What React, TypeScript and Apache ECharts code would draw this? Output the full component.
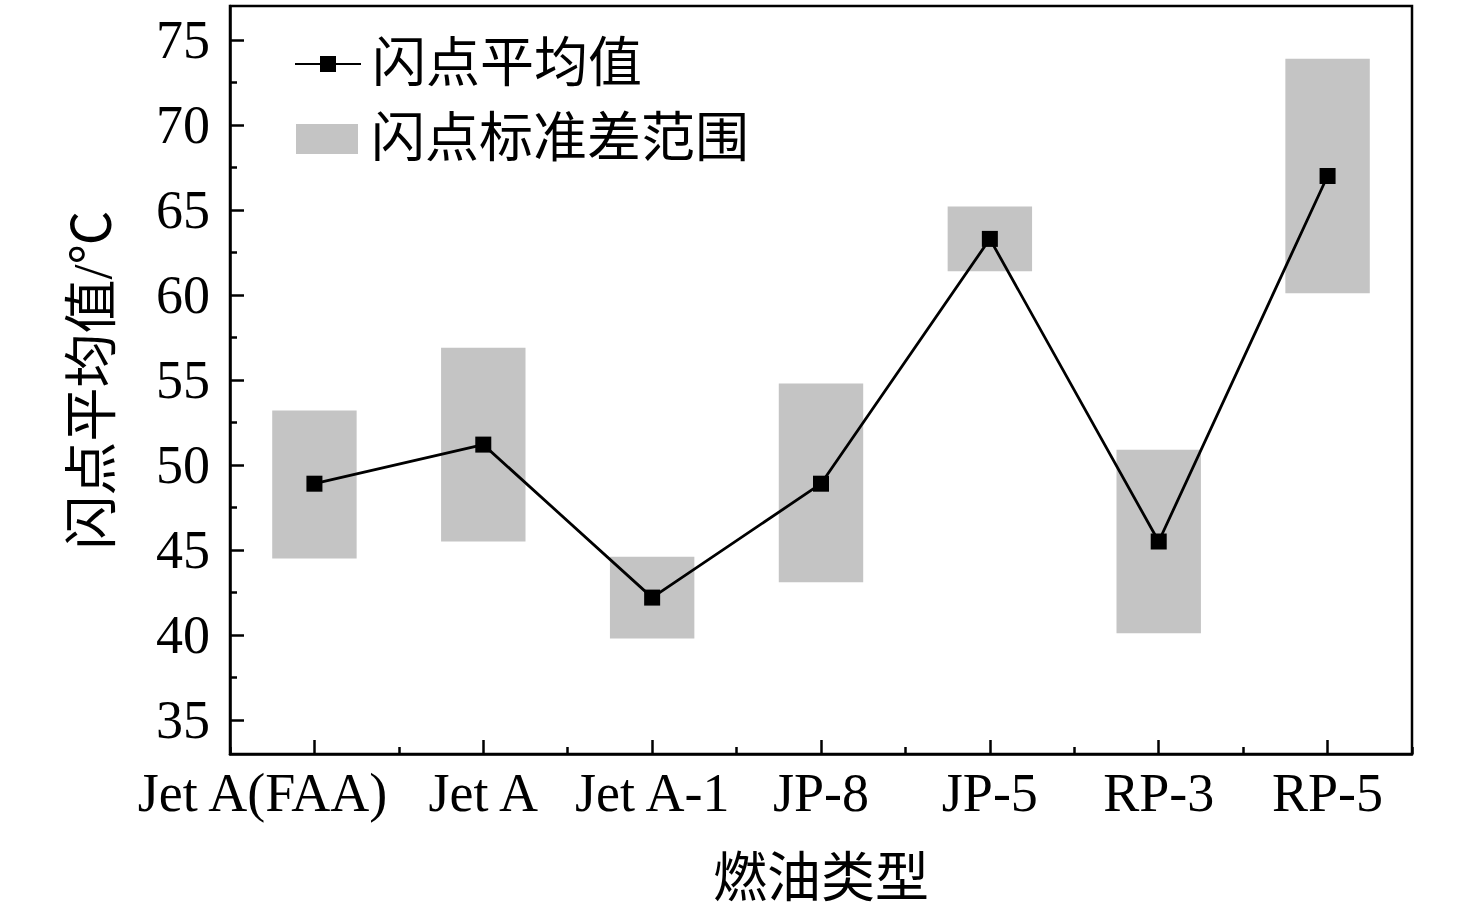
import React, { useEffect, useRef } from "react";
import * as echarts from "echarts";

const categories = ["Jet A(FAA)", "Jet A", "Jet A-1", "JP-8", "JP-5", "RP-3", "RP-5"];
const meanValues = [48.9, 51.2, 42.2, 48.9, 63.3, 45.5, 67.0];
const stdLow = [44.5, 45.5, 39.8, 43.1, 61.4, 40.1, 60.1];
const stdHigh = [53.2, 56.9, 44.6, 54.8, 65.2, 50.9, 73.9];
const yMajorTicks = [35, 40, 45, 50, 55, 60, 65, 70, 75];
const yMinorTicks = [37.5, 42.5, 47.5, 52.5, 57.5, 62.5, 67.5, 72.5];

const FONT = "'Liberation Serif', 'Times New Roman', 'Noto Sans CJK SC', serif";
const GRAY = "#c4c4c4";

export default function App() {
  const ref = useRef<HTMLDivElement>(null);

  useEffect(() => {
    if (!ref.current) return;
    const chart = echarts.init(ref.current, undefined, { renderer: "svg" });

    const bandData = categories.map((_, i) => [i, stdLow[i], stdHigh[i]]);

    const option: any = {
      animation: false,
      backgroundColor: "#ffffff",
      textStyle: { fontFamily: FONT, color: "#000" },
      grid: {
        left: 230,
        right: 64,
        top: 6,
        bottom: 167,
        show: true,
        borderColor: "#000",
        borderWidth: 2.5,
        backgroundColor: "transparent",
        containLabel: false,
        outerBoundsMode: "none",
      },
      legend: [
        {
          data: ["闪点平均值"],
          left: 294,
          top: 37,
          padding: 0,
          itemWidth: 66,
          itemHeight: 20,
          textStyle: { fontFamily: FONT, fontSize: 54, color: "#000", padding: [0, 0, 0, 6] },
        },
        {
          data: [{ name: "闪点标准差范围", icon: "rect" }],
          left: 296,
          top: 112,
          padding: 0,
          itemWidth: 62,
          itemHeight: 30,
          textStyle: { fontFamily: FONT, fontSize: 54, color: "#000", padding: [0, 0, 0, 8] },
        },
      ],
      xAxis: [
        {
          type: "category",
          data: categories,
          position: "bottom",
          boundaryGap: true,
          name: "燃油类型",
          nameLocation: "middle",
          nameGap: 98,
          nameTextStyle: { fontFamily: FONT, fontSize: 54, color: "#000" },
          axisLine: { show: true, lineStyle: { color: "#000", width: 2.5 } },
          axisTick: {
            show: true,
            inside: true,
            length: 14,
            alignWithLabel: true,
            lineStyle: { color: "#000", width: 2.5 },
          },
          axisLabel: {
            interval: 0,
            margin: 12,
            fontFamily: FONT,
            fontSize: 54,
            color: "#000",
            formatter: (v: string, i: number) => (i === 0 ? "{shift|" + v + "}" : v),
            rich: {
              shift: {
                fontFamily: FONT,
                fontSize: 54,
                color: "#000",
                padding: [0, 104, 0, 0],
              },
            },
          },
          splitLine: { show: false },
        },
        {
          type: "category",
          data: categories,
          position: "bottom",
          boundaryGap: true,
          axisLine: { show: false },
          axisTick: {
            show: true,
            inside: true,
            length: 7,
            interval: 0,
            lineStyle: { color: "#000", width: 2.5 },
          },
          axisLabel: { show: false },
          splitLine: { show: false },
        },
      ],
      yAxis: [
        {
          type: "value",
          min: 33,
          max: 77,
          position: "left",
          name: "闪点平均值/℃",
          nameLocation: "middle",
          nameGap: 110,
          nameTextStyle: { fontFamily: FONT, fontSize: 54, color: "#000" },
          axisLine: { show: true, lineStyle: { color: "#000", width: 2.5 } },
          axisTick: {
            show: true,
            inside: true,
            length: 14,
            customValues: yMajorTicks,
            lineStyle: { color: "#000", width: 2.5 },
          },
          axisLabel: {
            customValues: yMajorTicks,
            margin: 20,
            fontFamily: FONT,
            fontSize: 54,
            color: "#000",
          },
          splitLine: { show: false },
        },
        {
          type: "value",
          min: 33,
          max: 77,
          position: "left",
          axisLine: { show: false },
          axisTick: {
            show: true,
            inside: true,
            length: 7,
            customValues: yMinorTicks,
            lineStyle: { color: "#000", width: 2.5 },
          },
          axisLabel: { show: false },
          splitLine: { show: false },
        },
      ],
      series: [
        {
          name: "闪点标准差范围",
          type: "custom",
          xAxisIndex: 0,
          yAxisIndex: 0,
          z: 1,
          itemStyle: { color: GRAY },
          encode: { x: 0, y: [1, 2] },
          data: bandData,
          renderItem: (params: any, api: any) => {
            const idx = api.value(0);
            const lo = api.value(1);
            const hi = api.value(2);
            const top = api.coord([idx, hi]);
            const bot = api.coord([idx, lo]);
            const w = api.size([1, 0])[0] * 0.5;
            return {
              type: "rect",
              shape: { x: top[0] - w / 2, y: top[1], width: w, height: bot[1] - top[1] },
              style: { fill: GRAY },
            };
          },
        },
        {
          name: "闪点平均值",
          type: "line",
          xAxisIndex: 0,
          yAxisIndex: 0,
          z: 5,
          data: meanValues,
          symbol: "rect",
          symbolSize: 16,
          lineStyle: { color: "#000", width: 2.8 },
          itemStyle: { color: "#000" },
        },
      ],
    };

    chart.setOption(option);
    return () => chart.dispose();
  }, []);

  return (
    <div
      ref={ref}
      style={{ position: "absolute", left: 0, top: 0, width: 1476, height: 921 }}
    />
  );
}
